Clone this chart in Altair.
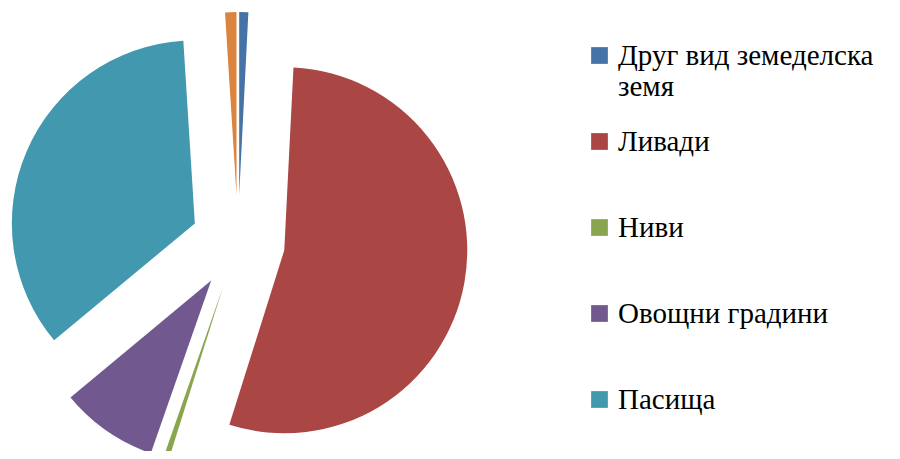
import altair as alt
import pandas as pd

categories = ["Друг вид земеделска земя", "Ливади", "Ниви", "Овощни градини", "Пасища", "Трайни насаждения"]
values = [0.8, 54.0, 0.5, 8.6, 35.0, 1.0]
colors = ["#4572A7", "#AA4643", "#89A54E", "#71588F", "#4198AF", "#DB843D"]
legend_values = categories[:5]

df = pd.DataFrame({"idx": list(range(len(categories))), "category": categories, "value": values})

CX, CY = 230, 234   # pie centre in view pixels
EXPLODE = 47
R = 183
SERIF = "Liberation Serif"

pie = (
    alt.Chart(df)
    .transform_joinaggregate(total="sum(value)")
    .transform_window(cum="sum(value)", sort=[alt.SortField("idx")], frame=[None, 0])
    .transform_calculate(
        t1="datum.cum / datum.total * 2 * PI",
        t0="(datum.cum - datum.value) / datum.total * 2 * PI",
    )
    .transform_calculate(mid="(datum.t0 + datum.t1) / 2")
    .transform_calculate(
        cx=f"{CX} + {EXPLODE} * sin(datum.mid)",
        cy=f"{CY} - {EXPLODE} * cos(datum.mid)",
    )
    .mark_arc(radius=R, strokeWidth=0)
    .encode(
        x=alt.X("cx:Q", scale=None),
        y=alt.Y("cy:Q", scale=None),
        theta=alt.Theta("t0:Q", scale=None),
        theta2="t1:Q",
        color=alt.Color(
            "category:N",
            scale=alt.Scale(domain=categories, range=colors),
            legend=alt.Legend(
                values=legend_values,
                title=None,
                orient="none",
                legendX=577,
                legendY=33,
                symbolType="square",
                symbolSize=280,
                symbolStrokeWidth=0,
                labelFontSize=29,
                labelColor="#000000",
                labelLimit=400,
                labelOffset=4,
                rowPadding=25,
                labelExpr="datum.label == 'Друг вид земеделска земя' ? ['Друг вид земеделска', 'земя'] : [datum.label, ' ']",
            ),
        ),
        order=alt.Order("idx:Q"),
    )
)

chart = (
    pie.properties(width=884, height=443, autosize=alt.AutoSizeParams(type="none"),
                   padding=0, background="white")
    .configure_legend(labelFont=SERIF)
    .configure_text(font=SERIF)
    .configure_view(strokeWidth=0, stroke="transparent")
)

chart.save("out.html", embed_options={"renderer": "svg", "actions": False})
